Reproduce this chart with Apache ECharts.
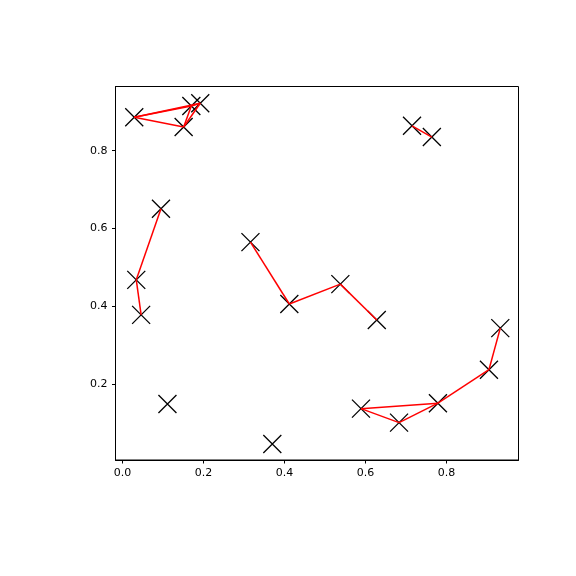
<!DOCTYPE html>
<html>
<head>
<meta charset="utf-8">
<script src="https://cdn.jsdelivr.net/npm/echarts@6/dist/echarts.min.js"></script>
<style>html,body{margin:0;padding:0;background:#fff}#c{width:576px;height:576px}</style>
</head>
<body>
<div id="c"></div>
<script>
const xs = [0.029, 0.170, 0.192, 0.151, 0.095, 0.715, 0.764, 0.034, 0.046, 0.316, 0.412, 0.538, 0.628, 0.933, 0.905, 0.779, 0.589, 0.683, 0.111, 0.370];
const ys = [0.886, 0.915, 0.922, 0.861, 0.651, 0.864, 0.835, 0.468, 0.378, 0.565, 0.406, 0.457, 0.365, 0.344, 0.237, 0.151, 0.137, 0.101, 0.149, 0.046];
const edges = [[0,1],[0,2],[0,3],[3,1],[3,2],[1,2],[5,6],[4,7],[7,8],[9,10],[10,11],[11,12],[13,14],[14,15],[15,16],[16,17],[17,15]];
const xTicks = [0.0, 0.2, 0.4, 0.6, 0.8];
const yTicks = [0.2, 0.4, 0.6, 0.8];

const pts = xs.map((x, i) => [x, ys[i]]);
const lineData = edges.map(e => ({coords: [pts[e[0]], pts[e[1]]]}));

const chart = echarts.init(document.getElementById('c'), null, {renderer: 'canvas'});
const axisCommon = {
  axisLine: {show: true, onZero: false, lineStyle: {color: '#000', width: 1}},
  axisTick: {show: true, inside: false, length: 3.5, lineStyle: {color: '#000', width: 1}},
  splitLine: {show: false},
};
chart.setOption({
  animation: false,
  backgroundColor: '#fff',
  grid: {left: 115.5, right: 57.5, top: 86.5, bottom: 116, show: true, borderColor: '#000', borderWidth: 1, containLabel: false},
  xAxis: Object.assign({}, axisCommon, {
    type: 'value', min: -0.0173, max: 0.978,
    axisTick: Object.assign({}, axisCommon.axisTick, {customValues: xTicks}),
    axisLabel: {customValues: xTicks, formatter: v => v.toFixed(1), color: '#000', fontSize: 11, fontFamily: 'DejaVu Sans', margin: 8}
  }),
  yAxis: Object.assign({}, axisCommon, {
    type: 'value', min: 0.005, max: 0.965,
    axisTick: Object.assign({}, axisCommon.axisTick, {customValues: yTicks}),
    axisLabel: {customValues: yTicks, formatter: v => v.toFixed(1), color: '#000', fontSize: 11, fontFamily: 'DejaVu Sans', margin: 8}
  }),
  series: [
    {
      type: 'scatter',
      data: pts,
      symbol: 'path://M0,0L10,10M10,0L0,10',
      symbolSize: 18,
      itemStyle: {color: 'none', borderColor: '#000', borderWidth: 1.3, opacity: 1},
      emphasis: {disabled: true},
      z: 2
    },
    {
      type: 'lines',
      coordinateSystem: 'cartesian2d',
      data: lineData,
      lineStyle: {color: '#ff0000', width: 1.5, opacity: 1, curveness: 0},
      emphasis: {disabled: true},
      z: 3
    }
  ]
});
</script>
</body>
</html>
